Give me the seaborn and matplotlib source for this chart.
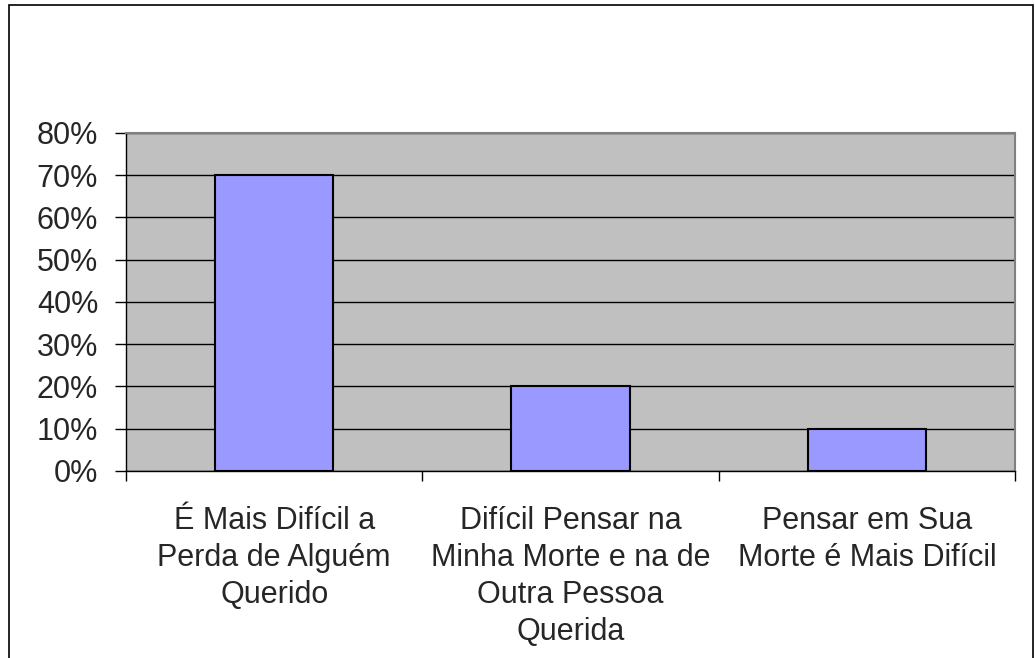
import pandas as pd
import matplotlib.pyplot as plt
import matplotlib.ticker as mtick
from matplotlib.patches import Rectangle
import seaborn as sns

# Data
categories = [
    "É Mais Difícil a\nPerda de Alguém\nQuerido",
    "Difícil Pensar na\nMinha Morte e na de\nOutra Pessoa\nQuerida",
    "Pensar em Sua\nMorte é Mais Difícil",
]
values = [0.70, 0.20, 0.10]
y_ticks = [0, 0.1, 0.2, 0.3, 0.4, 0.5, 0.6, 0.7, 0.8]

df = pd.DataFrame({"categoria": categories, "valor": values})

sns.set_style("white")
plt.rcParams['font.family'] = ['Liberation Sans', 'DejaVu Sans']

fig = plt.figure(figsize=(10.35, 6.58), dpi=100)
ax = fig.add_axes([0.1217, 0.2842, 0.859, 0.5137])
ax.set_facecolor('#C0C0C0')

sns.barplot(data=df, x='categoria', y='valor', color='#9999FF',
            saturation=1, edgecolor='black', linewidth=1.5, width=0.4, ax=ax, zorder=3)

ax.set_ylim(0, 0.8)
ax.set_xlim(-0.5, 2.5)
ax.set_yticks(y_ticks)
ax.yaxis.set_major_formatter(mtick.PercentFormatter(1.0, decimals=0))
ax.grid(axis='y', color='black', linewidth=1, zorder=0)
ax.set_axisbelow(True)

# x ticks at category borders, labels centred on the bars
ax.set_xticks([-0.5, 0.5, 1.5, 2.5])
ax.set_xticklabels([])
ax.set_xticks([0, 1, 2], minor=True)
ax.set_xticklabels(categories, minor=True, fontsize=22, linespacing=1.31)
ax.tick_params(axis='x', which='minor', length=0, pad=25)
ax.tick_params(axis='x', which='major', length=7, width=1, color='black', direction='out', bottom=True)
ax.tick_params(axis='y', length=8, width=1, color='black', direction='out', left=True, labelsize=22, pad=12)
ax.set_xlabel('')
ax.set_ylabel('')

for side in ['top', 'right']:
    ax.spines[side].set_color('#808080')
    ax.spines[side].set_linewidth(1.5)
for side in ['left', 'bottom']:
    ax.spines[side].set_color('black')
    ax.spines[side].set_linewidth(1)

# outer chart border
fig.patches.append(Rectangle((9 / 1035, -0.05), 1024 / 1035, 1.05 - 5 / 658,
                             transform=fig.transFigure, fill=False,
                             edgecolor='black', linewidth=1.2))

fig.savefig('out.png', dpi=100)
